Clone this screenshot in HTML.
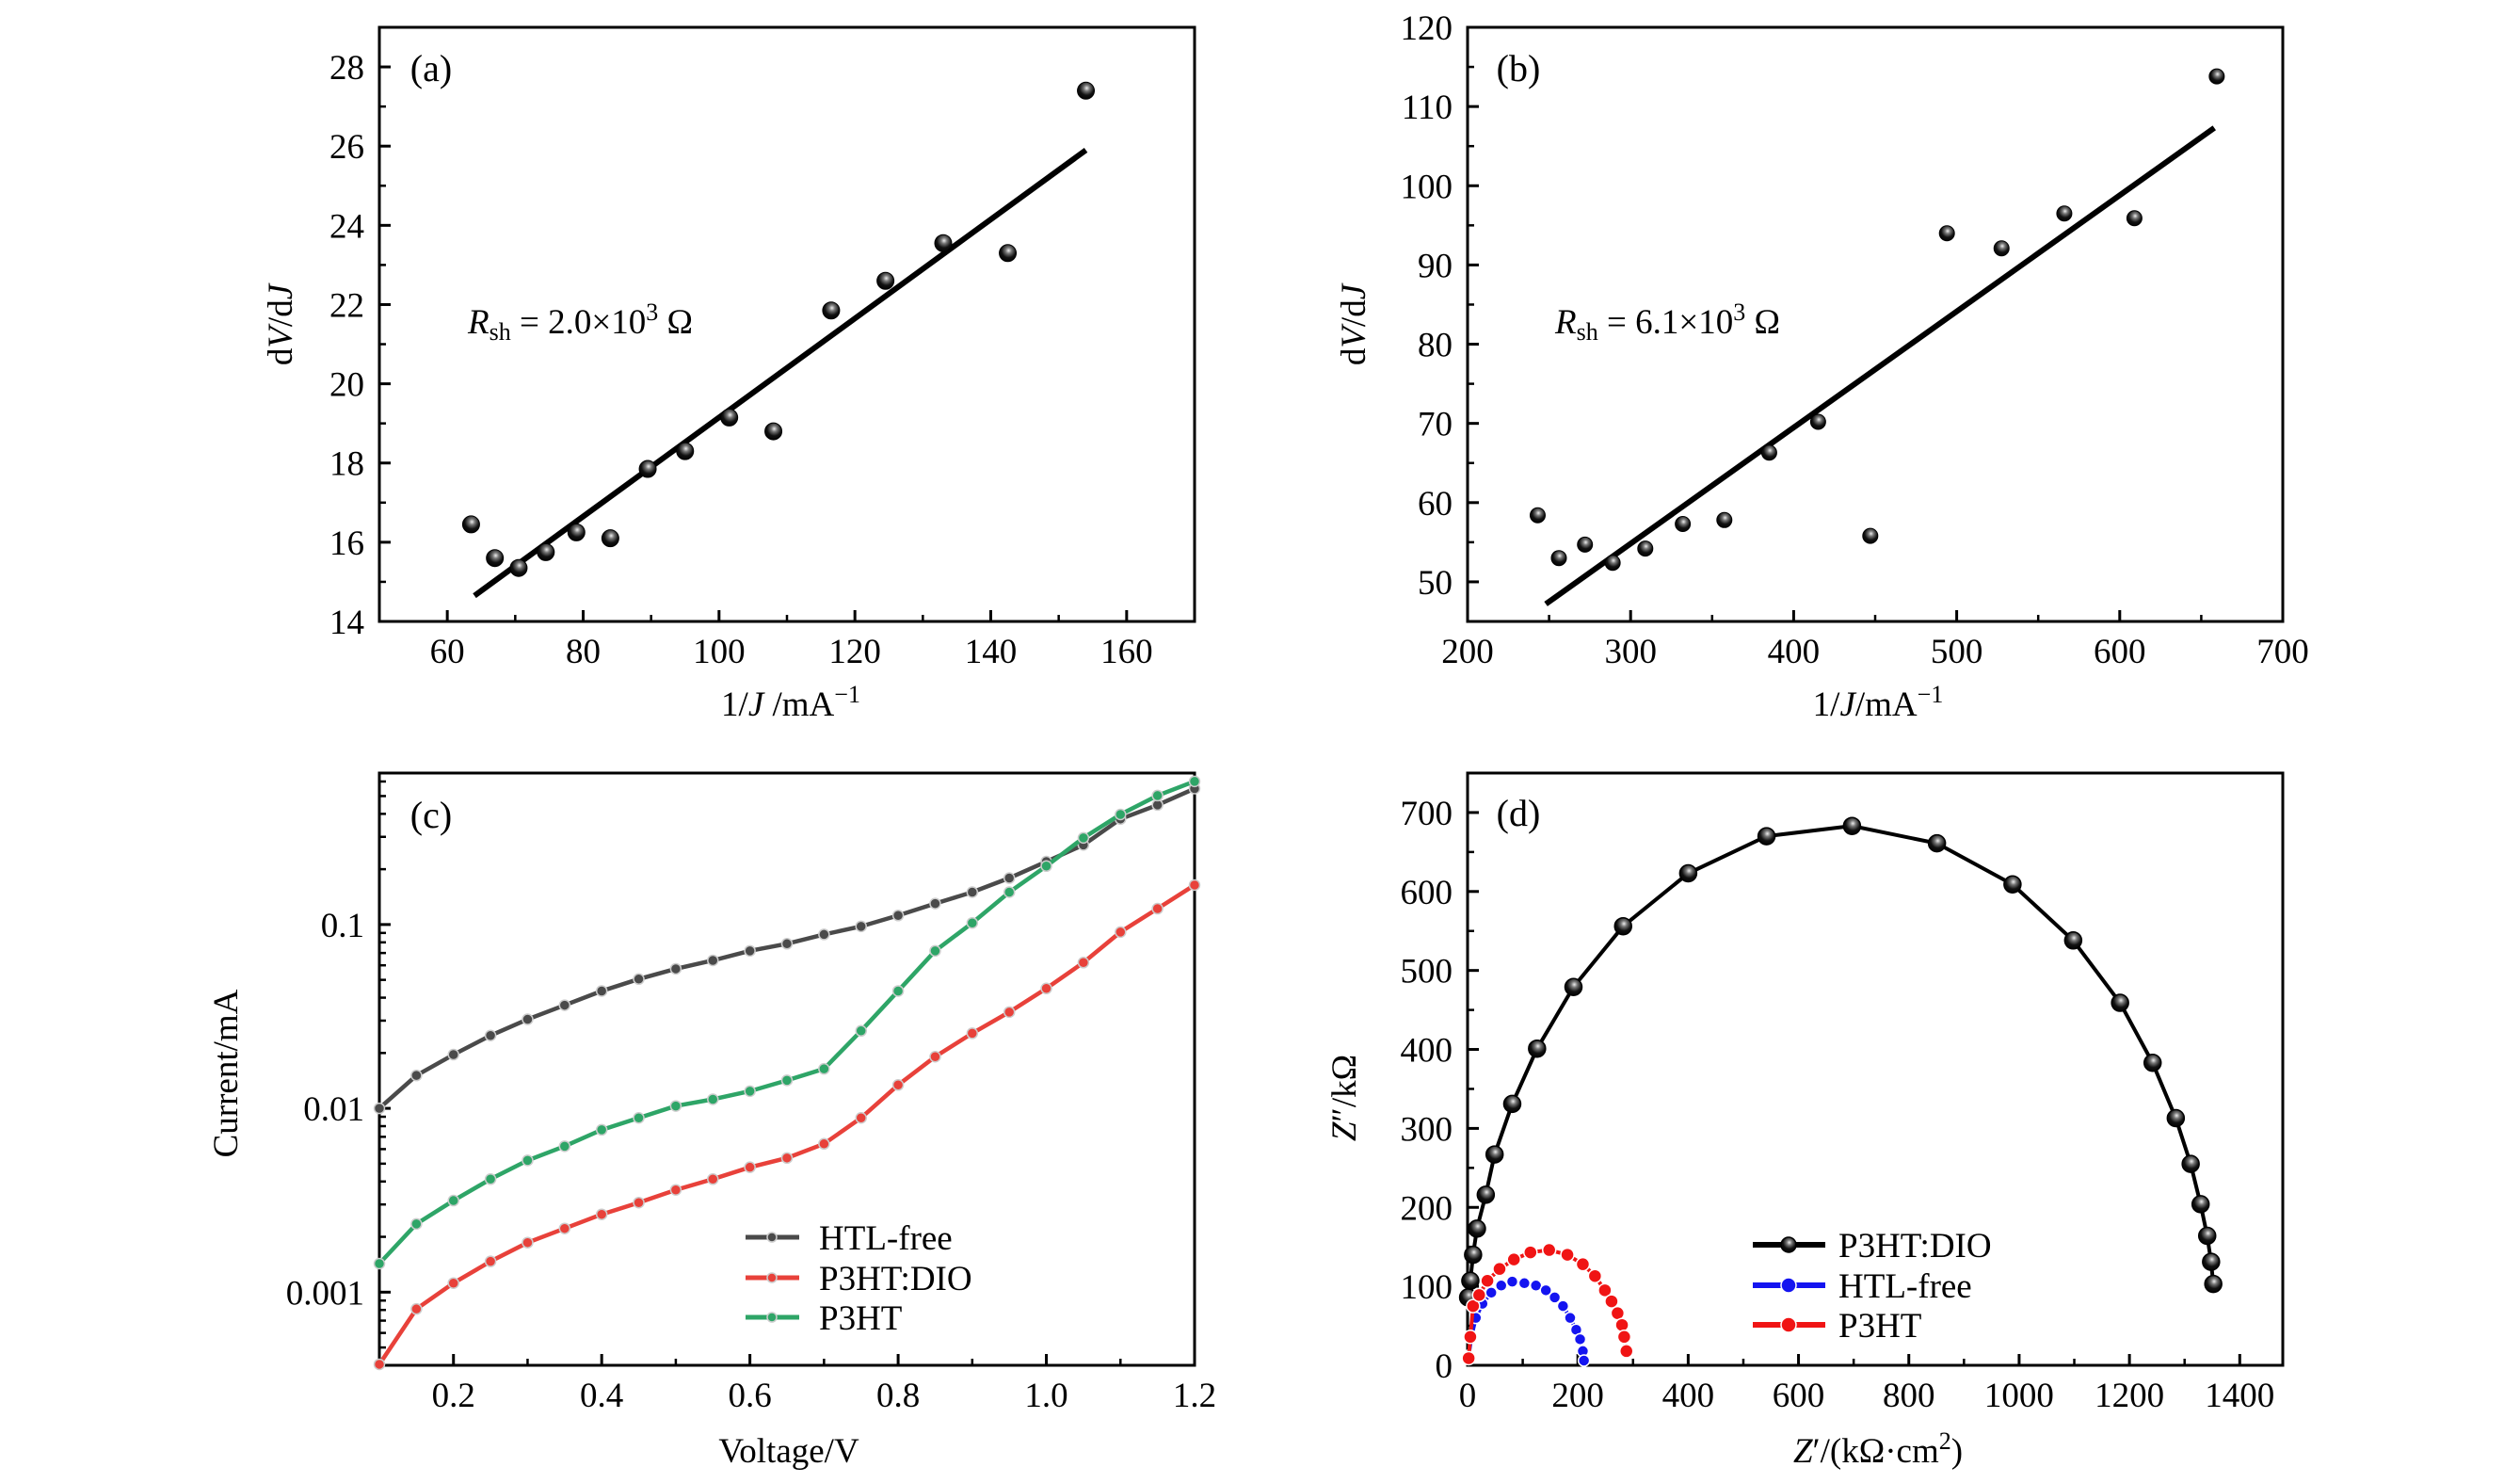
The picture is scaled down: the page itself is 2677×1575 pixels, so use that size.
<!DOCTYPE html>
<html><head><meta charset="utf-8">
<style>
html,body{margin:0;padding:0;background:#fff;}
svg{display:block;}
text{font-family:"Liberation Serif","DejaVu Serif",serif;fill:#000;}
</style></head>
<body>
<svg id="fig" width="2677" height="1575" viewBox="0 0 2677 1575" xmlns="http://www.w3.org/2000/svg">
<defs>
<radialGradient id="ball" cx="0.55" cy="0.35" r="0.7">
<stop offset="0" stop-color="#eee"/><stop offset="0.25" stop-color="#777"/><stop offset="0.6" stop-color="#111"/><stop offset="1" stop-color="#000"/>
</radialGradient>
</defs>
</svg>
<script>
// ---- Panel (a) data ----
const aX = [63.5,67,70.5,74.5,79,84,89.5,95,101.5,108,116.5,124.5,133,142.5,154];
const aY = [16.45,15.6,15.35,15.75,16.25,16.1,17.85,18.3,19.15,18.8,21.85,22.6,23.55,23.3,27.4];
const aFitX = [64,154];
const aFitY = [14.65,25.9];
const aXTicks = [60,80,100,120,140,160];
const aYTicks = [14,16,18,20,22,24,26,28];
// ---- Panel (b) data ----
const bX = [243,256,272,289,309,332,357.5,385,415,447,494,527.5,566,609,659.5];
const bY = [58.4,53.0,54.7,52.4,54.2,57.3,57.8,66.3,70.2,55.8,94.0,92.1,96.5,95.9,113.8];
const bFitX = [248,658];
const bFitY = [47.2,107.3];
const bXTicks = [200,300,400,500,600,700];
const bYTicks = [50,60,70,80,90,100,110,120];
// ---- Panel (c) data ----
const cV = [0.1,0.15,0.2,0.25,0.3,0.35,0.4,0.45,0.5,0.55,0.6,0.65,0.7,0.75,0.8,0.85,0.9,0.95,1.0,1.05,1.1,1.15,1.2];
const cHTL = [0.01,0.0151,0.0196,0.0249,0.0305,0.0364,0.0435,0.0505,0.0574,0.0638,0.0719,0.0786,0.0883,0.0977,0.112,0.130,0.150,0.179,0.220,0.271,0.375,0.447,0.549];
const cDIO = [0.000405,0.00081,0.00112,0.00147,0.00186,0.00222,0.00265,0.00307,0.0036,0.00412,0.00478,0.00537,0.00641,0.00887,0.0134,0.0191,0.0256,0.0334,0.0449,0.0621,0.091,0.122,0.164];
const cP3HT = [0.00143,0.00235,0.00315,0.00412,0.00521,0.00622,0.00764,0.00887,0.0103,0.0112,0.0124,0.0142,0.0164,0.0264,0.0435,0.0719,0.102,0.150,0.208,0.296,0.397,0.503,0.601];
const cXTicks = [0.2,0.4,0.6,0.8,1.0,1.2];
const cXLabels = ["0.2","0.4","0.6","0.8","1.0","1.2"];
const cYTicks = [0.001,0.01,0.1];
const cYLabels = ["0.001","0.01","0.1"];
// ---- Panel (d) data ----
const dDIOx = [1,5,10,17,33,49,81,126,192,282,400,542,697,851,988,1098,1183,1242,1284,1311,1329,1341,1348,1352];
const dDIOy = [86,107,140,173,216,267,331,401,479,556,623,670,683,661,609,538,459,383,313,255,204,164,131,103];
const dHTLx = [2,7,15,27,43,61,81,103,124,142,158,173,186,197,204,209,211];
const dHTLy = [12,36,60,78,92,101,106,104,101,95,86,75,60,45,33,18,6];
const dP3x = [2,5,10,21,36,58,84,114,148,181,209,231,249,261,272,280,284,288];
const dP3y = [9,36,75,89,107,122,134,143,146,140,128,113,95,81,66,51,36,18];
const dXTicks = [0,200,400,600,800,1000,1200,1400];
const dYTicks = [0,100,200,300,400,500,600,700];

const FS = 37;
const NS = "http://www.w3.org/2000/svg";
const svg = document.getElementById('fig');
function mk(tag, attrs, parent){
  const e = document.createElementNS(NS, tag);
  for (const k in attrs) e.setAttribute(k, attrs[k]);
  (parent||svg).appendChild(e);
  return e;
}
function lin(d0,d1,p0,p1){ return v => p0 + (v-d0)/(d1-d0)*(p1-p0); }
function logS(d0,d1,p0,p1){ return v => p0 + (Math.log10(v)-Math.log10(d0))/(Math.log10(d1)-Math.log10(d0))*(p1-p0); }

function frame(g, L,T,R,B){
  const f = mk('rect',{x:L,y:T,width:R-L,height:B-T,fill:'none',stroke:'#000','stroke-width':3},g);
  
  
}
function xTicks(g, sx, ticks, labels, B, minors){
  ticks.forEach((t,i)=>{
    const x = sx(t);
    const l = mk('line',{x1:x,x2:x,y1:B,y2:B-12,stroke:'#000','stroke-width':3},g);
    
    
    const tx = mk('text',{x:x,y:B+44,'font-size':FS,'text-anchor':'middle'},g);
    tx.textContent = labels ? labels[i] : String(t);
    
    
  });
  minors.forEach(t=>{
    const x = sx(t);
    const l = mk('line',{x1:x,x2:x,y1:B,y2:B-7,stroke:'#000','stroke-width':2.5},g);
    
    
  });
}
function yTicks(g, sy, ticks, labels, L, minors){
  ticks.forEach((t,i)=>{
    const y = sy(t);
    const l = mk('line',{x1:L,x2:L+12,y1:y,y2:y,stroke:'#000','stroke-width':3},g);
    
    
    const tx = mk('text',{x:L-16,y:y+13,'font-size':FS,'text-anchor':'end'},g);
    tx.textContent = labels ? labels[i] : String(t);
    
    
  });
  minors.forEach(t=>{
    const y = sy(t);
    const l = mk('line',{x1:L,x2:L+7,y1:y,y2:y,stroke:'#000','stroke-width':2.5},g);
    
    
  });
}
function label(g, x, y, html, name, rot){
  const t = mk('text',{x:x,y:y,'font-size':FS,'text-anchor':'middle'},g);
  if (rot) t.setAttribute('transform','rotate(-90 '+x+' '+y+')');
  t.innerHTML = html;
  
  
  return t;
}
function ball(g,x,y,r){
  const c = mk('circle',{cx:x,cy:y,r:r,fill:'url(#ball)',stroke:'#000','stroke-width':1},g);
  
  
}

// ===== Panel (a) =====
(function(){
  const L=403,T=29,R=1269,B=660;
  const g = mk('g',{});
  
  
  const sx = lin(50,170,L,R), sy = lin(14,29,B,T);
  frame(g,L,T,R,B);
  const mx=[]; for(let v=50; v<=170; v+=10) if(v%20) mx.push(v);
  const my=[]; for(let v=15; v<=29; v+=2) my.push(v);
  xTicks(g,sx,aXTicks,null,B,mx);
  yTicks(g,sy,aYTicks,null,L,my);
  const fl = mk('line',{x1:sx(aFitX[0]),y1:sy(aFitY[0]),x2:sx(aFitX[1]),y2:sy(aFitY[1]),stroke:'#000','stroke-width':6},g);
  
  
  aX.forEach((x,i)=>ball(g,sx(x),sy(aY[i]),9));
  label(g,L+55,86,'(a)','panel-label-a').setAttribute('font-size',40);
  const an = mk('text',{x:497,y:354,'font-size':FS},g);
  an.innerHTML = '<tspan font-style="italic">R</tspan><tspan font-size="26" dy="7">sh</tspan><tspan dy="-7"> = 2.0×10</tspan><tspan font-size="26" dy="-14">3</tspan><tspan dy="14"> Ω</tspan>';
  
  
  label(g,840,760,'1/<tspan font-style="italic">J</tspan> /mA<tspan font-size="26" dy="-14">−1</tspan>','x-axis-title');
  label(g,310,345,'d<tspan font-style="italic">V</tspan>/d<tspan font-style="italic">J</tspan>','y-axis-title',true);
})();

// ===== Panel (b) =====
(function(){
  const L=1559,T=29,R=2425,B=660;
  const g = mk('g',{});
  
  
  const sx = lin(200,700,L,R), sy = lin(45,120,B,T);
  frame(g,L,T,R,B);
  const mx=[]; for(let v=250; v<700; v+=100) mx.push(v);
  const my=[]; for(let v=55; v<120; v+=10) my.push(v);
  xTicks(g,sx,bXTicks,null,B,mx);
  yTicks(g,sy,bYTicks,null,L,my);
  const fl = mk('line',{x1:sx(bFitX[0]),y1:sy(bFitY[0]),x2:sx(bFitX[1]),y2:sy(bFitY[1]),stroke:'#000','stroke-width':6},g);
  
  
  bX.forEach((x,i)=>ball(g,sx(x),sy(bY[i]),8));
  label(g,1613,86,'(b)','panel-label-b').setAttribute('font-size',40);
  const an = mk('text',{x:1652,y:354,'font-size':FS},g);
  an.innerHTML = '<tspan font-style="italic">R</tspan><tspan font-size="26" dy="7">sh</tspan><tspan dy="-7"> = 6.1×10</tspan><tspan font-size="26" dy="-14">3</tspan><tspan dy="14"> Ω</tspan>';
  
  
  label(g,1995,760,'1/<tspan font-style="italic">J</tspan>/mA<tspan font-size="26" dy="-14">−1</tspan>','x-axis-title');
  label(g,1450,345,'d<tspan font-style="italic">V</tspan>/d<tspan font-style="italic">J</tspan>','y-axis-title',true);
})();

// ===== Panel (c) =====
(function(){
  const L=403,T=821,R=1269,B=1450;
  const g = mk('g',{});
  
  
  const sx = lin(0.1,1.2,L,R), sy = logS(0.0004,0.667,B,T);
  frame(g,L,T,R,B);
  const mx=[0.1,0.3,0.5,0.7,0.9,1.1];
  const my=[]; [0.0001,0.001,0.01,0.1].forEach(d=>{for(let k=2;k<=9;k++){const v=d*k; if(v>=0.0004&&v<=0.667) my.push(v);}});
  xTicks(g,sx,cXTicks,cXLabels,B,mx);
  yTicks(g,sy,cYTicks,cYLabels,L,my);
  const series = [[cHTL,'#4a4a4a','htl-free-series'],[cDIO,'#e8413a','p3ht-dio-series'],[cP3HT,'#2ea567','p3ht-series']];
  series.forEach(s=>{
    const pts = cV.map((v,i)=>sx(v)+','+sy(s[0][i])).join(' ');
    const pl = mk('polyline',{points:pts,fill:'none',stroke:s[1],'stroke-width':4.5},g);
    
    
    cV.forEach((v,i)=>{
      const c = mk('circle',{cx:sx(v),cy:sy(s[0][i]),r:5.5,fill:s[1],stroke:'#ccc','stroke-width':1.5},g);
      
      
    });
  });
  label(g,L+55,879,'(c)','panel-label-c').setAttribute('font-size',40);
  const leg = [['HTL-free','#4a4a4a',1314],['P3HT:DIO','#e8413a',1357],['P3HT','#2ea567',1399]];
  leg.forEach(e=>{
    const lg = mk('g',{},g);
    
    
    mk('line',{x1:792,x2:849,y1:e[2],y2:e[2],stroke:e[1],'stroke-width':5},lg);
    mk('circle',{cx:820,cy:e[2],r:5,fill:e[1],stroke:'#ccc','stroke-width':1.5},lg);
    const t = mk('text',{x:870,y:e[2]+13,'font-size':FS},lg);
    t.textContent = e[0];
  });
  label(g,838,1553,'Voltage/V','x-axis-title');
  label(g,252,1140,'Current/mA','y-axis-title',true);
})();

// ===== Panel (d) =====
(function(){
  const L=1559,T=821,R=2425,B=1450;
  const g = mk('g',{});
  
  
  const sx = lin(0,1478,L,R), sy = lin(0,750,B,T);
  frame(g,L,T,R,B);
  const mx=[]; for(let v=100; v<1478; v+=200) mx.push(v);
  const my=[]; for(let v=50; v<750; v+=100) my.push(v);
  xTicks(g,sx,dXTicks,null,B,mx);
  yTicks(g,sy,dYTicks,null,L,my);
  const series = [[dDIOx,dDIOy,'#000',9,'p3ht-dio-series'],[dHTLx,dHTLy,'#1414f0',6,'htl-free-series'],[dP3x,dP3y,'#f01414',7,'p3ht-series']];
  series.forEach(s=>{
    const pts = s[0].map((x,i)=>sx(x)+','+sy(s[1][i])).join(' ');
    const pl = mk('polyline',{points:pts,fill:'none',stroke:s[2],'stroke-width':4},g);
    
    
    s[0].forEach((x,i)=>{
      const c = mk('circle',{cx:sx(x),cy:sy(s[1][i]),r:s[3],fill:s[2]==='#000'?'url(#ball)':s[2],stroke:s[2]==='#000'?'#000':'#fff','stroke-width':1.5},g);
      
      
    });
  });
  label(g,1613,877,'(d)','panel-label-d').setAttribute('font-size',40);
  const leg = [['P3HT:DIO','#000',1322],['HTL-free','#1414f0',1365],['P3HT','#f01414',1407]];
  leg.forEach(e=>{
    const lg = mk('g',{},g);
    
    
    mk('line',{x1:1862,x2:1939,y1:e[2],y2:e[2],stroke:e[1],'stroke-width':6},lg);
    mk('circle',{cx:1900,cy:e[2],r:8,fill:e[1]==='#000'?'url(#ball)':e[1],stroke:e[1]==='#000'?'#000':'#fff','stroke-width':1.5},lg);
    const t = mk('text',{x:1953,y:e[2]+13,'font-size':FS},lg);
    t.textContent = e[0];
  });
  label(g,1995,1553,'<tspan font-style="italic">Z</tspan>′/(kΩ·cm<tspan font-size="26" dy="-14">2</tspan><tspan dy="14">)</tspan>','x-axis-title');
  label(g,1440,1166,'<tspan font-style="italic">Z</tspan>″/kΩ','y-axis-title',true);
})();
</script>
</body></html>
